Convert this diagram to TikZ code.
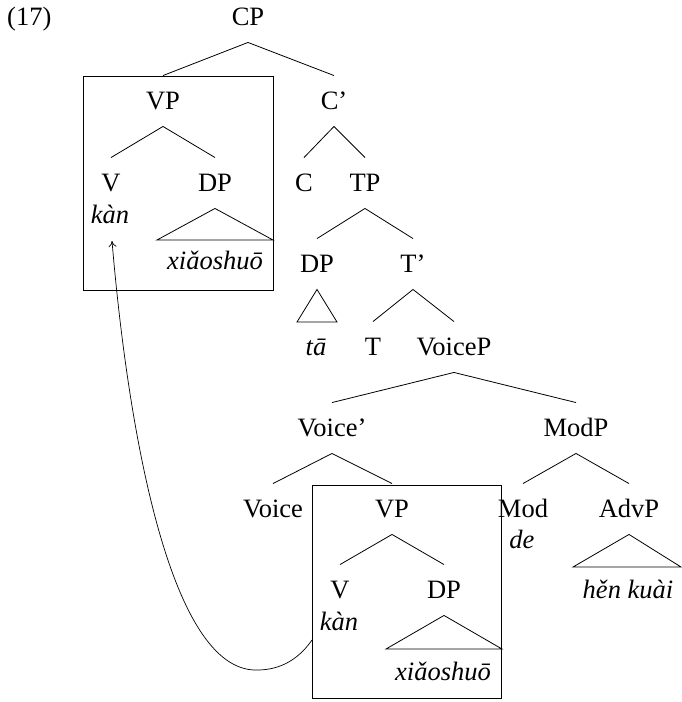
\documentclass[tikz,border=0pt]{standalone}
\usepackage{fontspec}
\setmainfont{Liberation Serif}
\usetikzlibrary{arrows.meta}
\tikzset{
  cat/.style={font=\fontsize{26.5}{32}\selectfont, inner xsep=0pt, inner ysep=16.5pt,
              text height=17.5pt, text depth=0pt},
  word/.style={font=\fontsize{26.5}{32}\selectfont\itshape, inner sep=0pt, anchor=base},
  branch/.style={line width=0.8pt},
  frame/.style={line width=0.8pt},
  move/.style={line width=0.7pt, -{To[length=6pt,width=8pt]}}
}
\begin{document}
\begin{tikzpicture}[x=1pt,y=-1pt]
\useasboundingbox (0,0) rectangle (681,702);

% example number
\node[word, font=\fontsize{26.5}{32}\selectfont, anchor=base west] (exnum) at (7,25.5) {(17)};

% categories
\node[cat] (CP)     at (248,17)  {CP};
\node[cat] (VPa)    at (163,101) {VP};
\node[cat] (Cbar)   at (334,101) {C’};
\node[cat] (Va)     at (111,183) {V};
\node[cat] (DPa)    at (215,183) {DP};
\node[cat] (C)      at (304,183) {C};
\node[cat] (TP)     at (365,183) {TP};
\node[cat] (DPs)    at (317,264) {DP};
\node[cat] (Tbar)   at (413,264) {T’};
\node[cat] (T)      at (373,347) {T};
\node[cat] (VoiceP) at (454,347) {VoiceP};
\node[cat] (Vbar)   at (332,428) {Voice’};
\node[cat] (ModP)   at (576,428) {ModP};
\node[cat] (Voice)  at (273,509) {Voice};
\node[cat] (VPb)    at (392,509) {VP};
\node[cat] (Mod)    at (523,509) {Mod};
\node[cat] (AdvP)   at (629,509) {AdvP};
\node[cat] (Vb)     at (340,590) {V};
\node[cat] (DPb)    at (444,590) {DP};

% words
\node[word] (kana)  at (110,223) {kàn};
\node[word] (xsa)   at (215,269) {xiǎoshuō};
\node[word] (ta)    at (316,355) {tā};
\node[word] (de)    at (522,548) {de};
\node[word] (kanb)  at (339,630) {kàn};
\node[word] (xsb)   at (443,680) {xiǎoshuō};
\node[word] (hk)    at (628,598) {hěn kuài};

% branches
\draw[branch] (VPa.north) -- (CP.south) -- (Cbar.north);
\draw[branch] (Va.north) -- (VPa.south) -- (DPa.north);
\draw[branch] (C.north) -- (Cbar.south) -- (TP.north);
\draw[branch] (DPs.north) -- (TP.south) -- (Tbar.north);
\draw[branch] (T.north) -- (Tbar.south) -- (VoiceP.north);
\draw[branch] (Vbar.north) -- (VoiceP.south) -- (ModP.north);
\draw[branch] (Voice.north) -- (Vbar.south) -- (VPb.north);
\draw[branch] (Mod.north) -- (ModP.south) -- (AdvP.north);
\draw[branch] (Vb.north) -- (VPb.south) -- (DPb.north);

% triangles
\draw[branch] (DPa.south) -- (157,240) -- (273,240) -- cycle;
\draw[branch] (DPs.south) -- (297,322) -- (337,322) -- cycle;
\draw[branch] (DPb.south) -- (386,649) -- (502,649) -- cycle;
\draw[branch] (AdvP.south) -- (573,567) -- (681,567) -- cycle;

% boxes around the two VP copies
\draw[frame] (83,76) rectangle (273,290);
\draw[frame] (312,485) rectangle (501,698);

% movement arrow
\coordinate (mvstart) at (312,640);
\coordinate (mvend) at (112,241);
\draw[move] (mvstart) .. controls (296,663) and (276,670) .. (257,670)
  .. controls (170,672) and (128,430) .. (mvend);
\end{tikzpicture}
\end{document}
